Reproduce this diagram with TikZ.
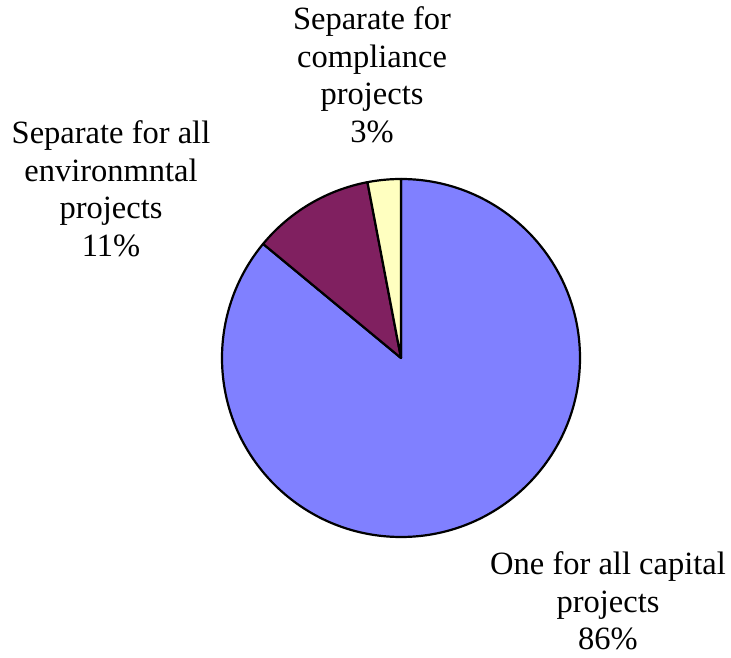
\documentclass[tikz,border=0pt]{standalone}
\usepackage{fontspec}
\setmainfont{Liberation Serif}
\usepackage{xcolor}
\usepackage{tikz}
\definecolor{capital}{HTML}{8080FF}
\definecolor{environ}{HTML}{802060}
\definecolor{complia}{HTML}{FFFFC0}
\tikzset{
  slice/.style={line width=2.2pt, draw=black, line join=round},
  lab/.style={align=center, font=\fontsize{32.5}{37.5}\selectfont},
}
\begin{document}
\begin{tikzpicture}[x=1pt, y=1pt]
  \useasboundingbox (0,0) rectangle (731,658);
  \coordinate (C) at (401,300); % pie centre

  % slices, clockwise from the top
  \foreach \a/\b/\c in {90/-219.6/capital, 140.4/100.8/environ, 100.8/90/complia}
    \filldraw[slice, fill=\c] (C) -- ++(\a:179) arc (\a:\b:179) -- cycle;

  \node[lab] (lcomp) at (372,583) {Separate for\\compliance\\projects\\3\%};
  \node[lab] (lenv)  at (111,469) {Separate for all\\environmntal\\projects\\11\%};
  \node[lab] (lcap)  at (608,57)  {One for all capital\\projects\\86\%};
\end{tikzpicture}
\end{document}
